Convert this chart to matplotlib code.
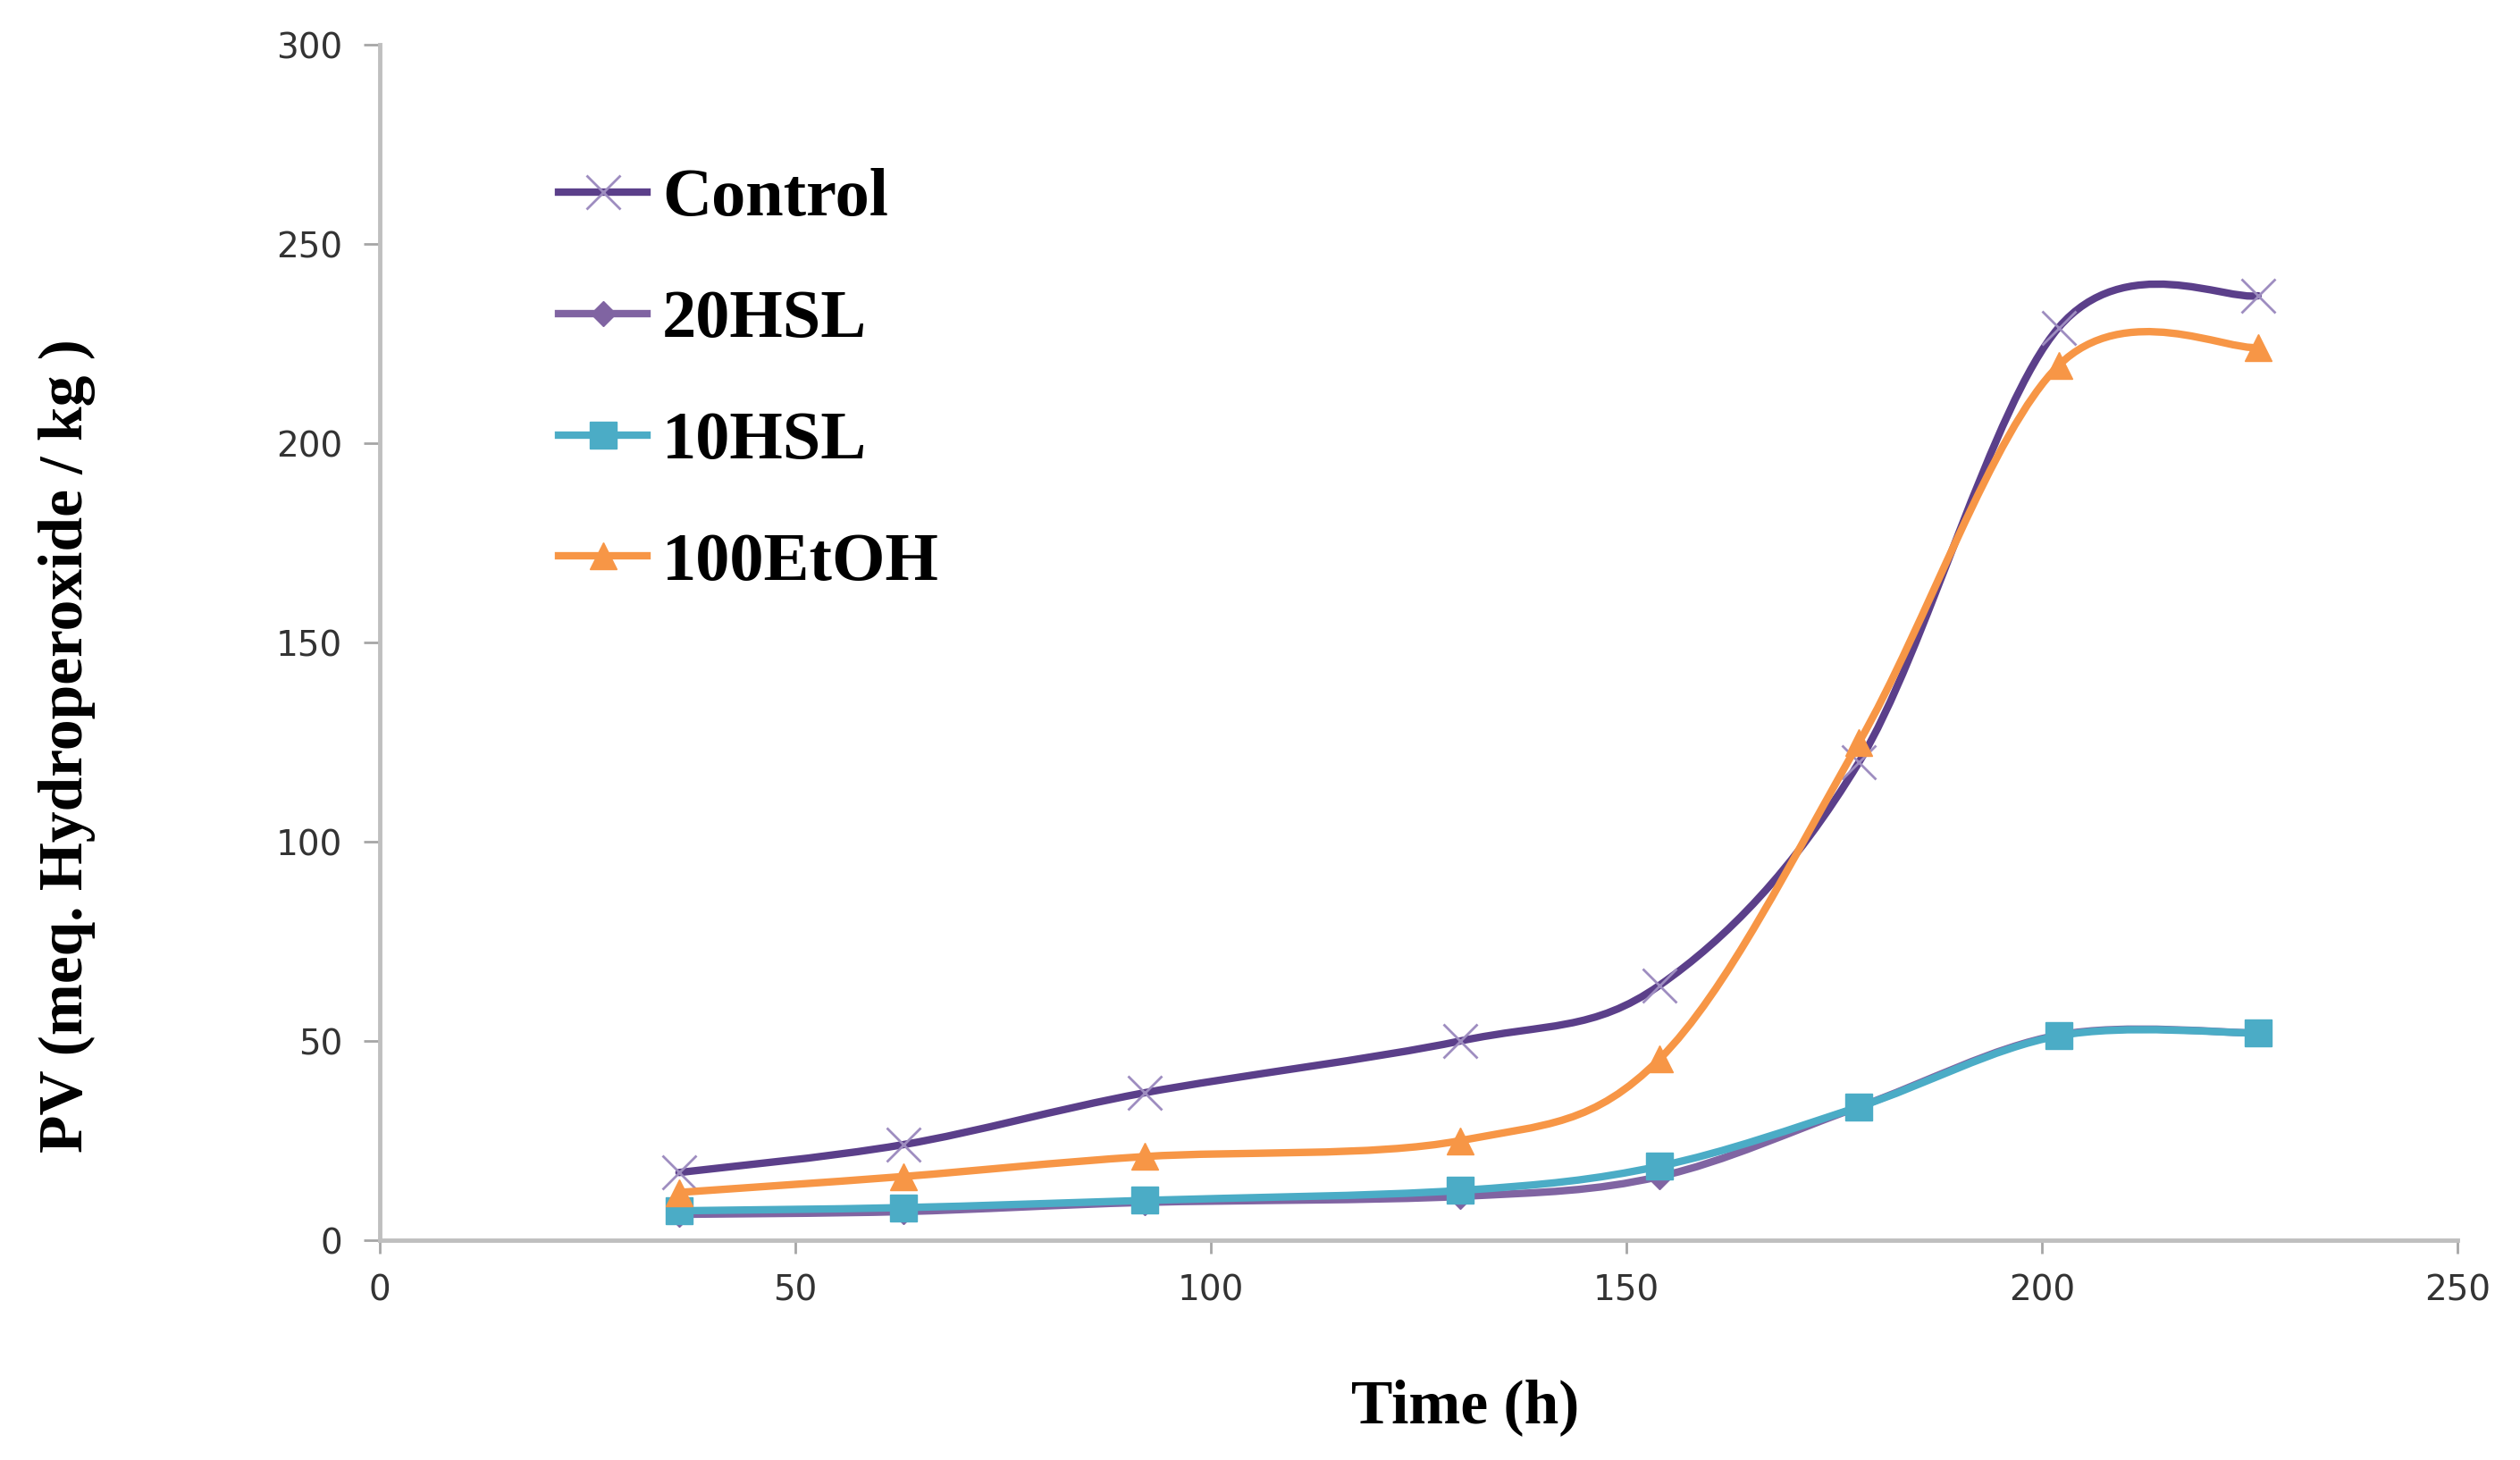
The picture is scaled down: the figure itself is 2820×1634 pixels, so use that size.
import matplotlib
matplotlib.use('Agg')
import matplotlib.pyplot as plt
from matplotlib.path import Path
from matplotlib.patches import PathPatch
from matplotlib.lines import Line2D

# data
time_h = [36, 63, 92, 130, 154, 178, 202, 226]
control = [17, 24, 37, 50, 64, 120, 229, 237]
hsl20 = [6.5, 7.2, 9.5, 11, 16, 33.5, 51.5, 52]
hsl10 = [7.4, 8.2, 10, 12.5, 18.6, 33.5, 51.3, 52]
etoh100 = [12, 16, 21, 25, 45.5, 125, 219.5, 224]
labels = ['Control', '20HSL', '10HSL', '100EtOH']
xticks = [0, 50, 100, 150, 200, 250]
yticks = [0, 50, 100, 150, 200, 250, 300]


def smooth_path(xs, ys):
    # excel-like smoothed line: catmull-rom segments as cubic beziers
    pts = list(zip(xs, ys))
    n = len(pts)
    verts = [pts[0]]
    codes = [Path.MOVETO]
    for i in range(n - 1):
        p0 = pts[i - 1] if i > 0 else pts[i]
        p1 = pts[i]
        p2 = pts[i + 1]
        p3 = pts[i + 2] if i + 2 < n else pts[i + 1]
        c1 = (p1[0] + (p2[0] - p0[0]) / 6.0, p1[1] + (p2[1] - p0[1]) / 6.0)
        c2 = (p2[0] - (p3[0] - p1[0]) / 6.0, p2[1] - (p3[1] - p1[1]) / 6.0)
        verts += [c1, c2, p2]
        codes += [Path.CURVE4] * 3
    return Path(verts, codes)


serif = ['Liberation Serif', 'DejaVu Serif']
lw = 6

# series style: values, line colour, marker, marker size, marker face, marker edge, edge width
series = [
    (control, '#5B3F8A', 'x', 28, '#9E8DC0', '#9E8DC0', 2.0),
    (hsl20, '#8064A2', 'D', 14, '#8064A2', '#8064A2', 1.0),
    (hsl10, '#4BACC6', 's', 21, '#4BACC6', '#4BACC6', 1.0),
    (etoh100, '#F79646', '^', 22, '#F79646', '#F79646', 1.0),
]

fig = plt.figure(figsize=(28.2, 16.34), dpi=100)
ax = fig.add_axes([0.1507, 0.1505, 0.9752 - 0.1507, 0.9694 - 0.1505])

handles = []
for k, (vals, col, mk, ms, mfc, mec, mew) in enumerate(series):
    z = 2 + k
    ax.add_patch(PathPatch(smooth_path(time_h, vals), fill=False, ec=col, lw=lw,
                           capstyle='round', joinstyle='round', zorder=z))
    ax.plot(time_h, vals, ls='none', marker=mk, ms=ms, mfc=mfc, mec=mec, mew=mew, zorder=z + 0.5)
    handles.append(Line2D([], [], color=col, lw=lw, marker=mk, ms=ms, mfc=mfc, mec=mec, mew=mew))

ax.set_xlim(0, 250)
ax.set_ylim(0, 300)
ax.set_xticks(xticks)
ax.set_yticks(yticks)
ax.spines['top'].set_visible(False)
ax.spines['right'].set_visible(False)
for s in ['left', 'bottom']:
    ax.spines[s].set_color('#BFBFBF')
    ax.spines[s].set_linewidth(3.5)
ax.tick_params(axis='y', direction='out', length=13, width=2, color='#A6A6A6',
               labelsize=28, labelcolor='#333333', pad=17)
ax.tick_params(axis='x', direction='out', length=11, width=2, color='#A6A6A6',
               labelsize=28, labelcolor='#333333', pad=16)

leg = ax.legend(handles, labels, loc='upper left', bbox_to_anchor=(0.2216, 0.885),
                bbox_transform=fig.transFigure, frameon=False, borderpad=0, borderaxespad=0,
                handlelength=1.3, handletextpad=0.22, labelspacing=0.87,
                prop={'family': serif, 'weight': 'bold', 'size': 55})

fig.text(0.0266, 0.489, 'PV (meq. Hydroperoxide / kg )', rotation=90, ha='center', va='center',
         family=serif, weight='bold', fontsize=50)
fig.text(0.5816, 0.036, 'Time (h)', ha='center', va='center',
         family=serif, weight='bold', fontsize=50)

plt.savefig('out.png', dpi=100)
print("[INFO] Finish the paint")
